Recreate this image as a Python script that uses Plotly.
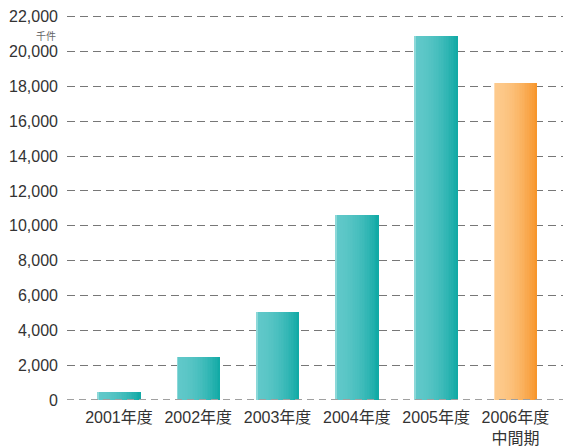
import plotly.graph_objects as go

# ---- data ----
categories = ["2001年度", "2002年度", "2003年度", "2004年度", "2005年度", "2006年度<br>中間期"]
values = [450, 2450, 5050, 10600, 20900, 18200]
is_interim = [False, False, False, False, False, True]
y_ticks = list(range(0, 22001, 2000))
unit_label = "千件"

# ---- styling ----
teal_left, teal_right = (96, 200, 201), (18, 170, 166)
orange_left, orange_right = (253, 202, 140), (247, 150, 44)
edge_teal, edge_orange = (140, 216, 216), (254, 220, 180)
bar_w = 0.547
N = 26
font_family = "Liberation Sans, Arial, Noto Sans CJK JP, sans-serif"


def mix(a, b, t):
    return "rgb(%d,%d,%d)" % tuple(round(a[k] + (b[k] - a[k]) * t) for k in range(3))


def strip_color(interim, t):
    lo, hi = (orange_left, orange_right) if interim else (teal_left, teal_right)
    tt = t ** 1.8
    return mix(lo, hi, tt)


fig = go.Figure()
step = bar_w / N
for i in range(N):
    t = i / (N - 1)
    if i == 0:
        cols = ["rgb(%d,%d,%d)" % (edge_orange if m else edge_teal) for m in is_interim]
    else:
        cols = [strip_color(m, t) for m in is_interim]
    w = step if i == N - 1 else step * 1.35
    fig.add_trace(go.Bar(
        x=categories, y=values,
        width=[w] * len(categories),
        offset=[-bar_w / 2 + i * step] * len(categories),
        marker=dict(color=cols, line=dict(width=0)),
        showlegend=False, hoverinfo="skip",
    ))

fig.add_shape(type="line", xref="paper", yref="y", x0=0, x1=1, y0=0, y1=0,
              line=dict(color="#a0a0a0", width=2, dash="7px,5px"), layer="above")

fig.add_annotation(text=unit_label, xref="paper", yref="paper", x=-0.018, y=0.945,
                   xanchor="right", yanchor="middle", showarrow=False,
                   font=dict(size=10, color="#666", family=font_family))

fig.update_layout(
    width=567, height=446,
    margin=dict(l=67, r=4, t=15, b=46),
    paper_bgcolor="white", plot_bgcolor="white",
    barmode="overlay", bargap=0,
    font=dict(family=font_family, size=16, color="#333"),
    xaxis=dict(type="category", range=[-0.655, 5.6], showgrid=False, showline=False,
               zeroline=False, ticks="", ticklabelstandoff=6, automargin=False,
               tickfont=dict(size=16, color="#333")),
    yaxis=dict(range=[0, 22100], tickvals=y_ticks, tickformat=",", showgrid=True,
               gridcolor="#777", griddash="8px,5px", gridwidth=1.3,
               zeroline=False, showline=False, ticks="", ticklabelstandoff=8,
               automargin=False, tickfont=dict(size=16, color="#333")),
)

fig.write_html("out.html")
